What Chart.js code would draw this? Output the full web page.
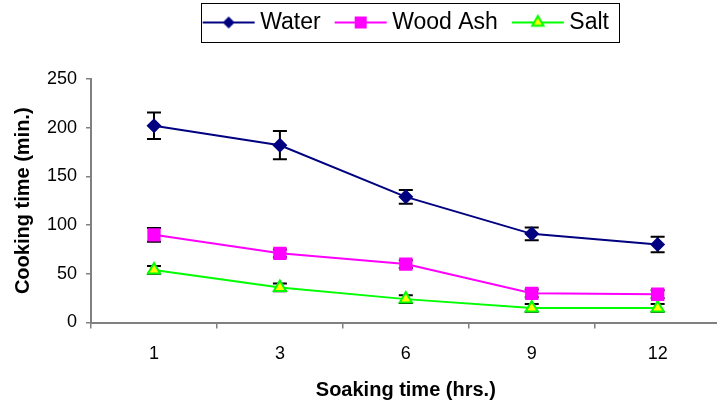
<!DOCTYPE html>
<html>
<head>
<meta charset="utf-8">
<script src="https://cdn.jsdelivr.net/npm/chart.js@4/dist/chart.umd.min.js"></script>
<style>
  html, body { margin: 0; padding: 0; background: #fff; overflow: hidden; }
  #wrap { width: 730px; height: 406px; }
</style>
</head>
<body>
<div id="wrap"><canvas id="chart" width="730" height="406"></canvas></div>
<script>
// soaking time categories (hrs.)
const soakHours = ['1', '3', '6', '9', '12'];

// cooking time (min.) per soaking medium
const water = [202, 182, 129, 91, 80];
const woodAsh = [90, 71, 60, 30, 29];
const salt = [54, 36, 24, 15, 15];

// error bar half-widths
const waterErr = [13.5, 14.5, 7, 6.5, 8];
const woodAshErr = [7, 4, 4, 4, 4];
const saltErr = [4, 4, 4, 4, 4];

const yTicks = [0, 50, 100, 150, 200, 250];

const FONT = "'Liberation Sans', Arial, sans-serif";

// legend swatch: line with the marker in the middle
function legendIcon(line, style, fill, border, r) {
  const c = document.createElement('canvas');
  c.width = 64; c.height = 20;
  const g = c.getContext('2d');
  g.strokeStyle = line; g.lineWidth = 2;
  g.beginPath(); g.moveTo(9, 10); g.lineTo(61, 10); g.stroke();
  g.fillStyle = fill; g.strokeStyle = border; g.lineWidth = 2;
  Chart.helpers.drawPoint(g, { pointStyle: style, radius: r, borderWidth: style === 'triangle' ? 2 : 0 }, 35, 10);
  return c;
}

const icons = [
  legendIcon('#000080', 'rectRot', '#000080', '#000080', 6),
  legendIcon('#FF00FF', 'rect', '#FF00FF', '#FF00FF', 8.5),
  legendIcon('#00FF00', 'triangle', '#FFFF00', '#00FF00', 6.5)
];

const errorBars = {
  id: 'errorBars',
  beforeDatasetsDraw(chart) {
    const ctx = chart.ctx;
    const x = chart.scales.x, y = chart.scales.y;
    const sets = [[water, waterErr], [woodAsh, woodAshErr], [salt, saltErr]];
    ctx.save();
    ctx.strokeStyle = '#000';
    ctx.lineWidth = 2;
    sets.forEach(([vals, errs]) => {
      vals.forEach((v, i) => {
        const px = x.getPixelForValue(i);
        const top = y.getPixelForValue(v + errs[i]);
        const bot = y.getPixelForValue(v - errs[i]);
        ctx.beginPath();
        ctx.moveTo(px, top); ctx.lineTo(px, bot);
        ctx.moveTo(px - 7, top); ctx.lineTo(px + 7, top);
        ctx.moveTo(px - 7, bot); ctx.lineTo(px + 7, bot);
        ctx.stroke();
      });
    });
    ctx.restore();
  }
};

// extra room below the legend
const legendGap = {
  id: 'legendGap',
  beforeInit(chart) {
    const fit = chart.legend.fit;
    chart.legend.fit = function () {
      fit.bind(chart.legend)();
      this.height += 35;
    };
  }
};

const legendBorder = {
  id: 'legendBorder',
  afterDraw(chart) {
    const boxes = chart.legend.legendHitBoxes;
    if (!boxes || !boxes.length) return;
    const l = Math.min(...boxes.map(b => b.left)) - 2;
    const r = Math.max(...boxes.map(b => b.left + b.width)) + 10;
    const t = Math.min(...boxes.map(b => b.top)) - 8;
    const btm = Math.max(...boxes.map(b => b.top + b.height)) + 8;
    const ctx = chart.ctx;
    ctx.save();
    ctx.strokeStyle = '#000';
    ctx.lineWidth = 1;
    ctx.strokeRect(Math.round(l) + 0.5, Math.round(t) + 0.5, Math.round(r - l), Math.round(btm - t));
    ctx.restore();
  }
};

new Chart(document.getElementById('chart').getContext('2d'), {
  type: 'line',
  data: {
    labels: soakHours,
    datasets: [
      { label: 'Water', data: water, borderColor: '#000080', backgroundColor: '#000080', borderWidth: 2,
        pointStyle: 'rectRot', pointRadius: 7.5, pointBorderWidth: 0, tension: 0 },
      { label: 'Wood Ash', data: woodAsh, borderColor: '#FF00FF', backgroundColor: '#FF00FF', borderWidth: 2,
        pointStyle: 'rect', pointRadius: 9.4, pointBorderWidth: 0, tension: 0 },
      { label: 'Salt', data: salt, borderColor: '#00FF00', backgroundColor: '#FFFF00', borderWidth: 2,
        pointStyle: 'triangle', pointRadius: 7, pointBorderColor: '#00FF00', pointBorderWidth: 2, tension: 0 }
    ]
  },
  options: {
    responsive: false,
    animation: false,
    layout: { padding: { top: -3, left: 11, right: 7, bottom: 6.5 } },
    plugins: {
      tooltip: { enabled: false },
      legend: {
        position: 'top',
        fullSize: false,
        labels: {
          usePointStyle: true,
          pointStyleWidth: 46,
          boxHeight: 20,
          padding: 14,
          color: '#000',
          font: { family: FONT, size: 23 },
          generateLabels: chart => chart.data.datasets.map((ds, i) => ({
            text: ds.label, pointStyle: icons[i], fontColor: '#000', lineWidth: 0,
            hidden: false, datasetIndex: i
          }))
        }
      }
    },
    scales: {
      x: {
        type: 'category',
        offset: true,
        grid: { offset: true, drawOnChartArea: false, drawTicks: true, tickLength: 6, color: '#808080', lineWidth: 1.5 },
        border: { display: true, color: '#808080', width: 2 },
        ticks: { color: '#000', padding: 17, font: { family: FONT, size: 18, lineHeight: 1 } },
        title: { display: true, text: 'Soaking time (hrs.)', color: '#000', padding: { top: 0, bottom: 0 },
          font: { family: FONT, size: 20, weight: 'bold', lineHeight: 0.95 } }
      },
      y: {
        min: 0,
        max: 250,
        afterBuildTicks: axis => { axis.ticks = yTicks.map(v => ({ value: v })); },
        grid: { drawOnChartArea: false, drawTicks: true, tickLength: 5, color: '#808080', lineWidth: 1.5 },
        border: { display: true, color: '#808080', width: 2 },
        ticks: { color: '#000', padding: 9, font: { family: FONT, size: 18 } },
        title: { display: true, text: 'Cooking time (min.)', color: '#000', padding: { top: 0, bottom: 3 },
          font: { family: FONT, size: 20, weight: 'bold' } }
      }
    }
  },
  plugins: [errorBars, legendGap, legendBorder]
});
</script>
</body>
</html>
